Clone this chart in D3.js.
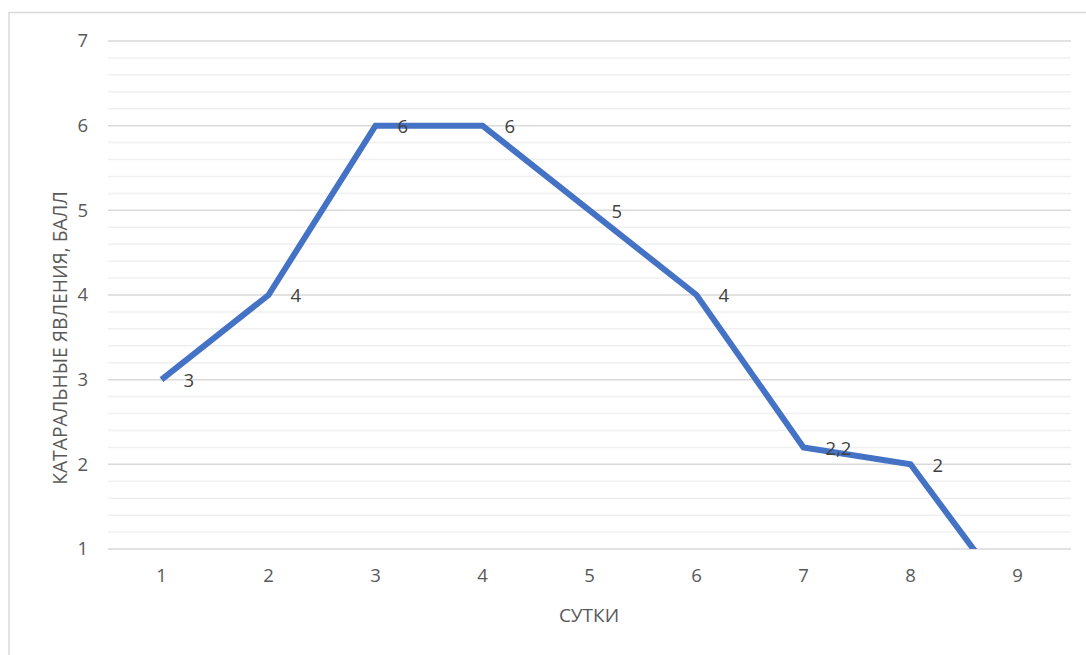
<!DOCTYPE html>
<html>
<head>
<meta charset="utf-8">
<script src="https://cdn.jsdelivr.net/npm/d3@7"></script>
<style>
  html, body { margin: 0; padding: 0; background: #fff; }
  svg { display: block; font-family: "Open Sans", "Liberation Sans", sans-serif; }
</style>
</head>
<body>
<svg id="chart" width="1086" height="655"></svg>
<script>
// Days of observation and catarrhal score per day
const days = ["1", "2", "3", "4", "5", "6", "7", "8", "9"];
const scores = [3, 4, 6, 6, 5, 4, 2.2, 2, 0.3];
const scoreLabels = ["3", "4", "6", "6", "5", "4", "2,2", "2", ""];
const yTicks = [1, 2, 3, 4, 5, 6, 7];
const yMinorTicks = d3.range(1, 7.001, 0.2);

const xTitle = "СУТКИ";
const yTitle = "КАТАРАЛЬНЫЕ ЯВЛЕНИЯ, БАЛЛ";

const svg = d3.select("#chart");
const W = 1086, H = 655;
const plot = { left: 108, right: 1071, top: 41, bottom: 549 };

// outer chart frame
svg.append("rect")
  .attr("x", 9).attr("y", 12.5)
  .attr("width", W + 20).attr("height", H + 20)
  .attr("fill", "#fff")
  .attr("stroke", "#d9d9d9").attr("stroke-width", 1.5);

const x = d3.scaleBand().domain(days).range([plot.left, plot.right]);
const y = d3.scaleLinear().domain([1, 7]).range([plot.bottom, plot.top]);

// minor gridlines
svg.append("g")
  .selectAll("line")
  .data(yMinorTicks.filter(v => Math.abs(v - Math.round(v)) > 1e-6))
  .join("line")
  .attr("x1", plot.left).attr("x2", plot.right)
  .attr("y1", d => y(d)).attr("y2", d => y(d))
  .attr("stroke", "#f0f0f0").attr("stroke-width", 1.5);

// major gridlines
svg.append("g")
  .selectAll("line")
  .data(yTicks)
  .join("line")
  .attr("x1", plot.left).attr("x2", plot.right)
  .attr("y1", d => y(d)).attr("y2", d => y(d))
  .attr("stroke", "#d9d9d9").attr("stroke-width", 1.5);

// y axis labels
const yAxis = d3.axisLeft(y).tickValues(yTicks).tickSize(0).tickPadding(0).tickFormat(d3.format("d"));
const gy = svg.append("g").attr("transform", `translate(88,0)`).call(yAxis);
gy.select(".domain").remove();
gy.selectAll("text").attr("fill", "#595959").attr("font-size", 18.5)
  .attr("font-family", "\"Open Sans\", sans-serif");

// x axis labels
const xAxis = d3.axisBottom(x).tickSize(0).tickPadding(0);
const gx = svg.append("g").attr("transform", `translate(0,${plot.bottom + 20})`).call(xAxis);
gx.select(".domain").remove();
gx.selectAll("text").attr("fill", "#595959").attr("font-size", 18.5)
  .attr("font-family", "\"Open Sans\", sans-serif");

// axis titles
svg.append("text")
  .attr("x", 589).attr("y", 622)
  .attr("text-anchor", "middle")
  .attr("fill", "#595959").attr("font-size", 19)
  .text(xTitle);

svg.append("text")
  .attr("transform", `translate(67,338) rotate(-90)`)
  .attr("text-anchor", "middle")
  .attr("fill", "#595959").attr("font-size", 19.3)
  .text(yTitle);

// score line, clipped to the plotting area
svg.append("clipPath").attr("id", "plotClip")
  .append("rect")
  .attr("x", plot.left).attr("y", plot.top - 10)
  .attr("width", plot.right - plot.left).attr("height", plot.bottom - plot.top + 10);

const line = d3.line()
  .x((d, i) => x(days[i]) + x.bandwidth() / 2)
  .y(d => y(d));

svg.append("path")
  .datum(scores)
  .attr("clip-path", "url(#plotClip)")
  .attr("d", line)
  .attr("fill", "none")
  .attr("stroke", "#4472C4")
  .attr("stroke-width", 6)
  .attr("stroke-linejoin", "miter")
  .attr("stroke-linecap", "butt");

// value labels to the right of each point
svg.append("g")
  .selectAll("text")
  .data(scores.map((v, i) => ({ v, i, label: scoreLabels[i] })).filter(d => d.label !== ""))
  .join("text")
  .attr("x", d => x(days[d.i]) + x.bandwidth() / 2 + 22)
  .attr("y", d => y(d.v))
  .attr("dy", "0.4em")
  .attr("fill", "#404040")
  .attr("font-size", 18.5)
  .text(d => d.label);
</script>
</body>
</html>
